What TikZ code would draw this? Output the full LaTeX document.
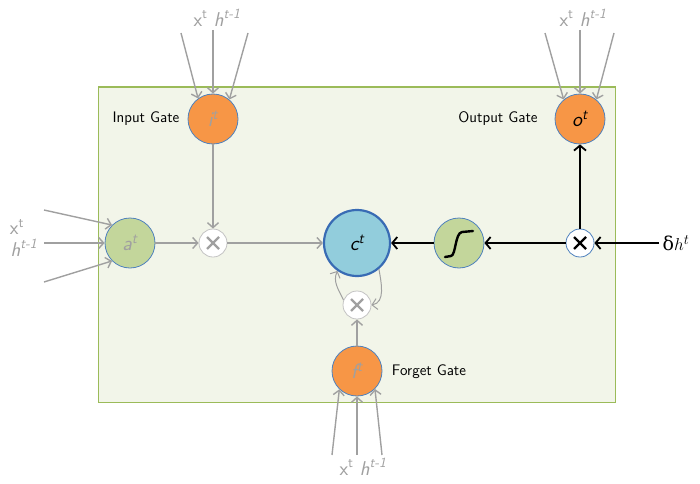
\documentclass[tikz,border=0pt]{standalone}
\usepackage{fontspec}
\newfontfamily\deltafont{DejaVu Serif}
\usetikzlibrary{arrows.meta}

\definecolor{boxfill}{RGB}{242,245,233}
\definecolor{boxline}{RGB}{155,187,89}
\definecolor{gateorange}{RGB}{247,150,70}
\definecolor{ringblue}{RGB}{79,129,189}
\definecolor{leafgreen}{RGB}{195,214,155}
\definecolor{cellblue}{RGB}{146,205,220}
\definecolor{cellring}{RGB}{56,107,180}
\definecolor{wiregray}{RGB}{160,160,160}
\definecolor{ringgray}{RGB}{195,195,195}

\begin{document}
\begin{tikzpicture}[x=1pt,y=1pt,
    wire/.style={draw=wiregray,line width=1.4pt,-{Straight Barb[length=5pt,width=11pt]}},
    flow/.style={draw=black,line width=1.8pt,-{Straight Barb[length=5pt,width=12pt]}},
    unit/.style={circle,draw=ringblue,line width=0.8pt,minimum size=50pt,inner sep=0pt,
      font=\fontsize{21}{23}\selectfont\itshape},
    gate/.style={unit,fill=gateorange,text=wiregray},
    mult/.style={circle,draw=#1,fill=white,line width=0.8pt,minimum size=28pt,inner sep=0pt},
    cross/.style={path picture={\draw[line width=2.2pt,#1]
      ([shift={(-6pt,-6pt)}]path picture bounding box.center) -- ([shift={(6pt,6pt)}]path picture bounding box.center)
      ([shift={(-6pt,6pt)}]path picture bounding box.center) -- ([shift={(6pt,-6pt)}]path picture bounding box.center);}},
    tag/.style={font=\fontsize{15.3}{17}\selectfont},
    feed/.style={text=wiregray,font=\fontsize{20}{22}\selectfont}]
    \sffamily
    \useasboundingbox (0,0) rectangle (700,483);
    \draw[draw=boxline,fill=boxfill,line width=1pt] (98,81) rectangle (615,396);

    % cell units
    \node[gate] (i) at (213,364) {i\textsuperscript{t}};
    \node[gate,text=black] (o) at (580,364) {o\textsuperscript{t}};
    \node[gate] (f) at (357,112) {f\textsuperscript{t}};
    \node[unit,fill=leafgreen,text=wiregray] (a) at (130,240) {a\textsuperscript{t}};
    \node[unit,fill=cellblue,draw=cellring,line width=2.2pt,minimum size=66pt] (c) at (357,240) {c\textsuperscript{t}};
    \node[unit,fill=leafgreen] (sig) at (459,240) {};
    \draw[line width=2.4pt,line cap=round] (445,226) -- (451,227)
      .. controls (456,228) and (455,250) .. (462,251) -- (473,252);
    \node[mult=ringgray,cross=wiregray] (mi) at (213,240) {};
    \node[mult=ringgray,cross=wiregray] (mf) at (357,178) {};
    \node[mult=ringblue,cross=black] (mo) at (580,240) {};

    % labels
    \node[tag] (ilab) at (146,364) {Input Gate};
    \node[tag] (olab) at (498,364) {Output Gate};
    \node[tag] (flab) at (429,111) {Forget Gate};
    \node[font=\fontsize{19}{21}\selectfont] (dh) at (676,240) {{\deltafont δ}$h^t$};
    \node[feed] (itop) at (217,465) {x\textsuperscript{t} \textit{h\textsuperscript{t-1}}};
    \node[feed] (otop) at (583,465) {x\textsuperscript{t} \textit{h\textsuperscript{t-1}}};
    \node[feed] (fbot) at (363,16) {x\textsuperscript{t} \textit{h\textsuperscript{t-1}}};
    \node[feed] (ax) at (17,256) {x\textsuperscript{t}};
    \node[feed] (ah) at (24,235) {\textit{h\textsuperscript{t-1}}};

    % free ends of the inputs
    \coordinate (i1) at (181,450);
    \coordinate (i2) at (213,453);
    \coordinate (i3) at (248,450);
    \coordinate (o1) at (545,450);
    \coordinate (o2) at (580,453);
    \coordinate (o3) at (614,450);
    \coordinate (f1) at (332,28);
    \coordinate (f2) at (357,28);
    \coordinate (f3) at (382,28);
    \coordinate (a1) at (44,273);
    \coordinate (a2) at (44,240);
    \coordinate (a3) at (44,201);

    \draw[wire] (i1) to (i.126);
    \draw[wire] (i2) to (i.90);
    \draw[wire] (i3) to (i.50);
    \draw[wire] (o1) to (o.130);
    \draw[wire] (o2) to (o.90);
    \draw[wire] (o3) to (o.50);
    \draw[wire] (f1) to (f.226);
    \draw[wire] (f2) to (f.270);
    \draw[wire] (f3) to (f.315);
    \draw[wire] (a1) to (a.135);
    \draw[wire] (a2) to (a.180);
    \draw[wire] (a3) to (a.225);

    % inside the cell
    \draw[wire] (i) to (mi);
    \draw[wire] (a) to (mi);
    \draw[wire] (mi) to (c);
    \draw[wire] (f) to (mf);
    \draw[wire,line width=1pt] (mf.160) to[out=115,in=-115] (c.235);
    \draw[wire,line width=1pt] (c.-50) to[out=-80,in=10] (mf.east);
    \draw[flow] (dh) to (mo);
    \draw[flow] (mo) to (sig);
    \draw[flow] (sig) to (c);
    \draw[flow] (mo) to (o);
  \end{tikzpicture}
\end{document}
